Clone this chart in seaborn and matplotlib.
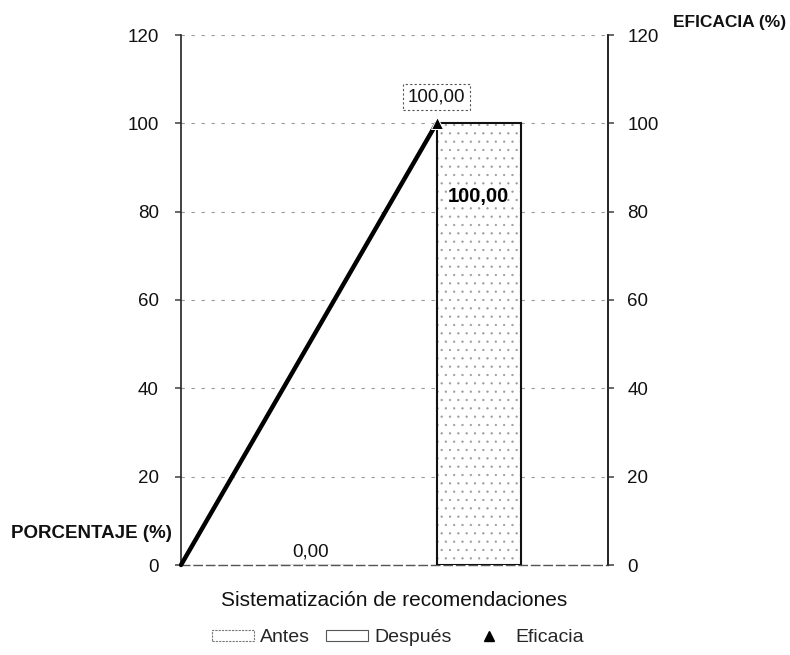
import matplotlib
matplotlib.use("Agg")
import matplotlib.pyplot as plt
import seaborn as sns
import pandas as pd
import numpy as np
from matplotlib.patches import Patch
from matplotlib.lines import Line2D

# ---- data ----
categoria = ["Sistematización de recomendaciones"]
series = ["Antes", "Después"]
porcentaje = [0.0, 100.0]
eficacia = [0.0, 100.0]
yticks = [0, 20, 40, 60, 80, 100, 120]

sns.set_theme(style="white")
plt.rcParams['font.family'] = ['Liberation Sans', 'DejaVu Sans']
plt.rcParams['hatch.linewidth'] = 0.4

fig = plt.figure(figsize=(7.9, 6.55), dpi=100)
ax = fig.add_axes([181/790, (655-565)/655, 427/790, 530/655])

df = pd.DataFrame({"cat": categoria * len(series), "serie": series, "valor": porcentaje})
# stippled fill layer
sns.barplot(data=df, x="cat", y="valor", hue="serie", hue_order=series,
            palette=["white", "white"], width=0.8, gap=0.5,
            edgecolor="#9a9a9a", linewidth=0, ax=ax, legend=False, zorder=3)
fill_bars = list(ax.patches)
fill_bars[1].set_hatch("..")
# outline layer
sns.barplot(data=df, x="cat", y="valor", hue="serie", hue_order=series,
            palette=["white", "white"], width=0.8, gap=0.5, fill=False,
            edgecolor="black", linewidth=1.5, ax=ax, legend=False, zorder=4)
bars = [p for p in ax.patches if p not in fill_bars]
antes, despues = bars[0], bars[1]
antes.set_edgecolor("#777777")
antes.set_linewidth(1.0)
despues.set_edgecolor("#111111")

ax.set_xlim(-0.508, 0.508)
ax.set_ylim(0, 120)
ax.set_yticks(yticks)
ax.set_yticklabels([str(t) for t in yticks], fontsize=13.5)
ax.set_xticks([])
ax.set_xlabel(categoria[0], fontsize=15, labelpad=19, color="#111111")
ax.set_ylabel("")
ax.yaxis.grid(True, linestyle=(0, (3, 6)), color="#999999", linewidth=0.8)
ax.set_axisbelow(True)
ax.spines["top"].set_visible(False)
ax.spines["left"].set_color("#222222")
ax.spines["left"].set_linewidth(1.2)
ax.spines["bottom"].set_color("#555555")
ax.spines["bottom"].set_linestyle((0, (6, 3)))
ax.spines["bottom"].set_linewidth(1.0)
ax.spines["right"].set_color("#222222")
ax.spines["right"].set_linewidth(1.2)
ax.tick_params(axis="y", which="both", left=True, length=4, color="#555555", pad=12, labelcolor="#111111")

# data labels on bars
for p, v in zip(bars, porcentaje):
    cx = p.get_x() + p.get_width() / 2
    if v == 0:
        ax.annotate(f"{v:.2f}".replace(".", ","), (cx, v), xytext=(0, 3),
                    textcoords="offset points", ha="center", va="bottom", fontsize=13.5, color="#111111")
    else:
        ax.annotate(f"{v:.2f}".replace(".", ","), (cx, v), xytext=(0, -53),
                    textcoords="offset points", ha="center", va="center", fontsize=14.5,
                    fontweight="heavy", color="black", zorder=5)

# secondary axis with the efficacy line
ax2 = ax.twinx()
x0 = ax.get_xlim()[0]
x1 = despues.get_x()
line_x = [x0, x1]
sns.lineplot(x=line_x, y=eficacia, ax=ax2, color="black", linewidth=3.2,
             marker="^", markevery=[1], markersize=8, zorder=6, clip_on=False)
ax2.set_ylim(0, 120)
ax2.set_yticks(yticks)
ax2.set_yticklabels([str(t) for t in yticks], fontsize=13.5)
ax2.tick_params(axis="y", right=True, length=4, color="#555555", pad=10, labelcolor="#111111")
ax2.grid(False)
for s in ["top", "left", "bottom"]:
    ax2.spines[s].set_visible(False)
ax2.spines["right"].set_color("#222222")
ax2.spines["right"].set_linewidth(1.2)
ax2.set_xlim(ax.get_xlim())

ax2.annotate(f"{eficacia[-1]:.2f}".replace(".", ","), (x1, eficacia[-1]), xytext=(0, 19),
             textcoords="offset points", ha="center", va="center", fontsize=13.5, color="#111111",
             bbox=dict(boxstyle="square,pad=0.25", fc="white", ec="#555555", ls=(0, (2, 2)), lw=0.8))

# axis titles
fig.text(172/790, 1 - 533/655, "PORCENTAJE (%)", ha="right", va="center",
         fontsize=13.5, fontweight="bold", color="#111111")
fig.text(786/790, 1 - 22/655, "EFICACIA (%)", ha="right", va="center",
         fontsize=12.5, fontweight="bold", color="#111111")

# legend
handles = [Patch(facecolor="white", edgecolor="#777777", linewidth=0.8, linestyle=(0, (2, 1))),
           Patch(facecolor="white", edgecolor="#555555", linewidth=0.8),
           Line2D([], [], color="black", marker="^", linestyle="none", markersize=7)]
leg = fig.legend(handles, ["Antes", "Después", "Eficacia"], loc="center",
                 bbox_to_anchor=(398/790, 1 - 638/655), ncol=3, frameon=False,
                 fontsize=14, handlelength=2.2, handleheight=0.5, columnspacing=0.8,
                 handletextpad=0.3)

fig.savefig("out.png", dpi=100)
